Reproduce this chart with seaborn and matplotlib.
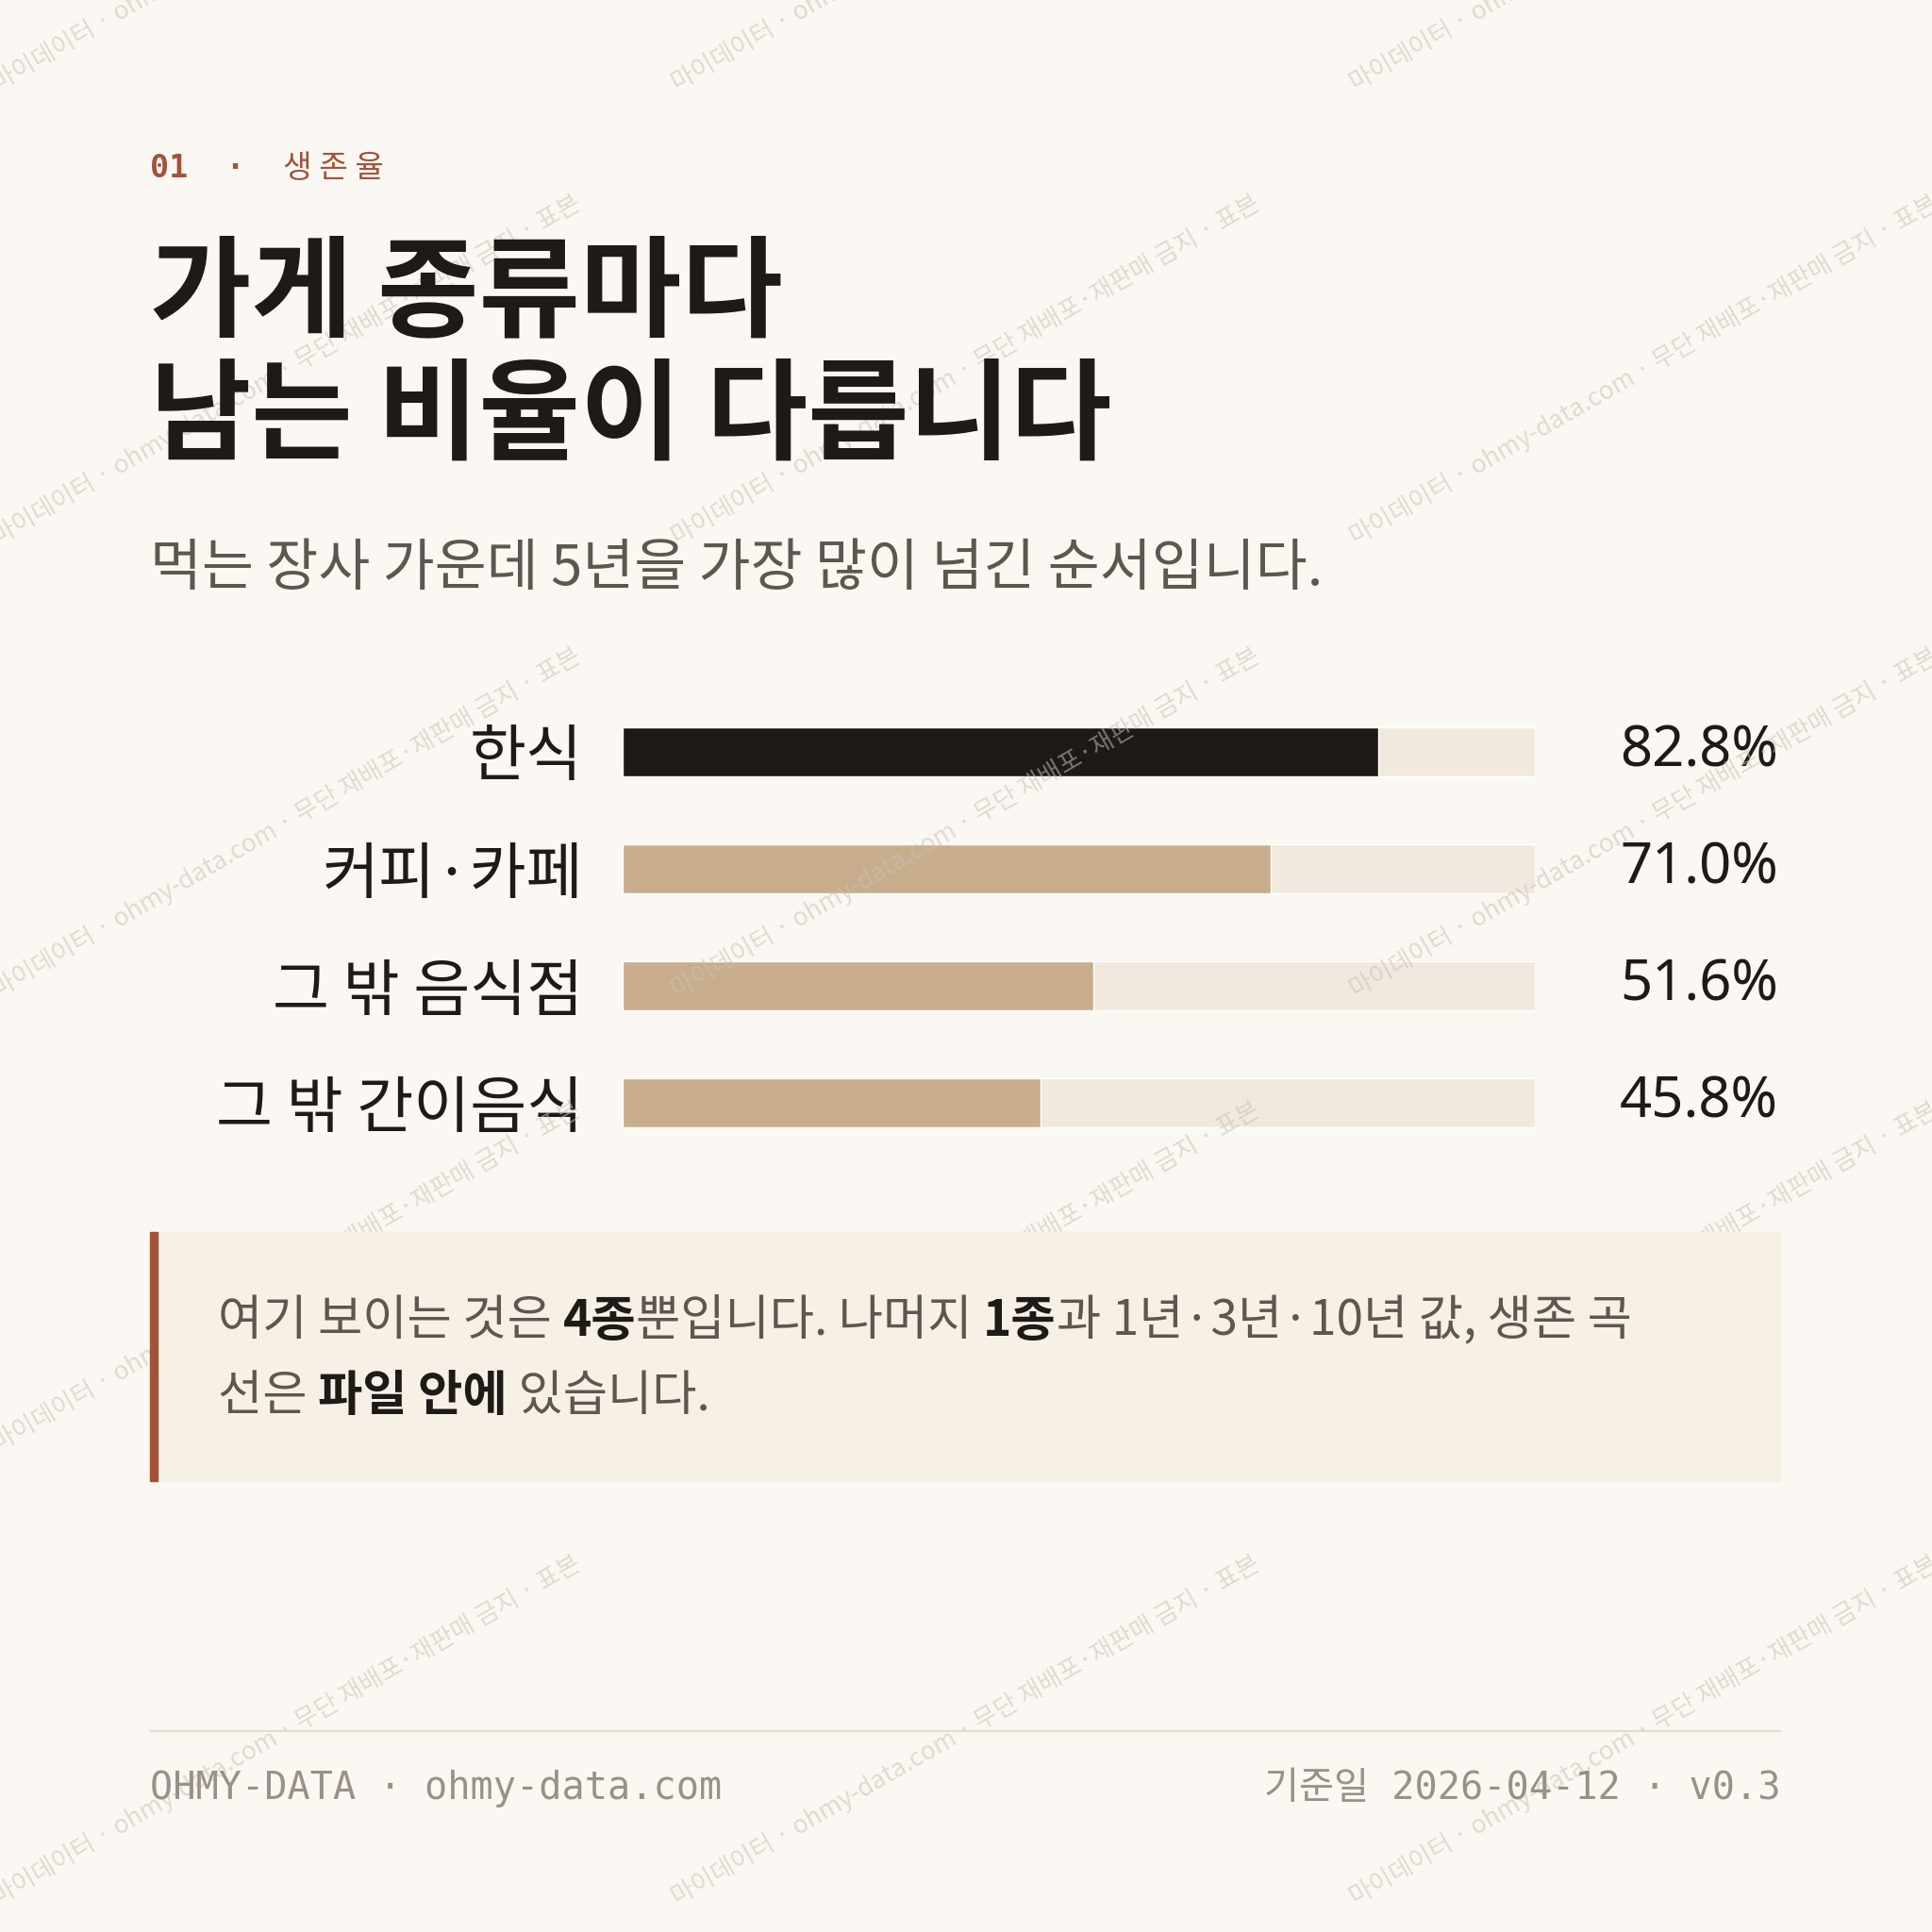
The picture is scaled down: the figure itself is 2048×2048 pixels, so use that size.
import matplotlib
matplotlib.use("Agg")
import matplotlib.pyplot as plt
import matplotlib.transforms as mtrans
from matplotlib.patches import Rectangle
import seaborn as sns
import pandas as pd

categories = ["한식", "커피·카페", "그 밖 음식점", "그 밖 간이음식"]
values = [82.8, 71.0, 51.6, 45.8]
value_labels = ["82.8%", "71.0%", "51.6%", "45.8%"]
track_max = 100

sns.set_theme(style="white")
KR = ["Noto Sans CJK KR", "DejaVu Sans"]
MONO = ["DejaVu Sans Mono", "Noto Sans CJK KR"]
plt.rcParams["font.family"] = KR

BG = "#FBF8F3"; TRACK = "#F1E9DD"; DARK = "#1E1916"; TAN = "#C8AD8C"
RUST = "#A4523A"; GRAY = "#5E5750"; FOOT = "#9A9186"

fig = plt.figure(figsize=(20.48, 20.48), dpi=100, facecolor=BG)
S = 1568.0
def fx(x): return x / S
def fy(y): return 1 - y / S

# watermark
wm = "마이데이터 · ohmy-data.com · 무단 재배포·재판매 금지 · 표본"
for r in range(-2, 7):
    for c in range(-1, 4):
        x0 = -10 + c * 551
        y0 = 300 + r * 368
        fig.text(fx(x0), fy(y0), wm, rotation=30, fontsize=19, color="#C9C2B8",
                 alpha=0.55, ha="left", va="center", family=KR, zorder=0)

# header
fig.text(fx(122), fy(137), "01  ·  ", fontsize=24, color=RUST, weight="bold",
         family=MONO, va="center")
fig.text(fx(230), fy(137), "생 존 율", fontsize=24, color=RUST, family=KR, va="center")
fig.text(fx(122), fy(240), "가게 종류마다", fontsize=84, weight="bold", color="#1E1A17", va="center")
fig.text(fx(122), fy(340), "남는 비율이 다릅니다", fontsize=84, weight="bold", color="#1E1A17", va="center")
fig.text(fx(122), fy(462), "먹는 장사 가운데 5년을 가장 많이 넘긴 순서입니다.", fontsize=43,
         color=GRAY, va="center")

# bars
ax = fig.add_axes([fx(505), 1 - 942.5 / S, (1246 - 505) / S, 380 / S])
ax.set_facecolor("none")
df = pd.DataFrame({"cat": categories, "val": values, "track": [track_max] * 4})
sns.barplot(data=df, y="cat", x="track", color=TRACK, width=0.42, ax=ax, orient="h",
            saturation=1)
pal = [DARK] + [TAN] * 3
sns.barplot(data=df, y="cat", x="val", hue="cat", palette=pal, width=0.42, ax=ax,
            orient="h", legend=False, saturation=1)
ax.set_xlim(0, 100)
ax.set_ylim(3.5, -0.5)
ax.set_xlabel(""); ax.set_ylabel("")
ax.set_xticks([])
ax.tick_params(axis="y", length=0, pad=30, labelsize=47, labelcolor="#1E1A17")
for s in ax.spines.values():
    s.set_visible(False)
tr = mtrans.blended_transform_factory(fig.transFigure, ax.transData)
for i, lab in enumerate(value_labels):
    ax.text(fx(1443), i, lab, transform=tr, ha="right", va="center", fontsize=43,
            weight="bold", color="#1E1A17", family=["Noto Sans", "DejaVu Sans"])

# callout
fig.patches.append(Rectangle((fx(122), fy(1202)), (1445 - 122) / S, 202 / S,
                             transform=fig.transFigure, color="#F6F0E6", zorder=1))
fig.patches.append(Rectangle((fx(122), fy(1202)), 6 / S, 202 / S,
                             transform=fig.transFigure, color=RUST, zorder=2))

fig.canvas.draw()
renderer = fig.canvas.get_renderer()
def rich(x, y, parts, size):
    cur = fx(x)
    for txt, bold in parts:
        t = fig.text(cur, fy(y), txt, fontsize=size, va="center",
                     weight="bold" if bold else "normal",
                     color="#1E1A17" if bold else GRAY, zorder=3)
        bb = t.get_window_extent(renderer=renderer)
        cur += bb.width / fig.bbox.width
rich(177, 1072, [("여기 보이는 것은 ", False), ("4종", True), ("뿐입니다. 나머지 ", False),
                 ("1종", True), ("과 1년·3년·10년 값, 생존 곡", False)], 37)
rich(177, 1133, [("선은 ", False), ("파일 안에", True), (" 있습니다.", False)], 37)

# footer
fig.lines.append(plt.Line2D([fx(122), fx(1445)], [fy(1405), fy(1405)],
                            transform=fig.transFigure, color="#E2DBD0", lw=1.5))
fig.text(fx(122), fy(1452), "OHMY-DATA · ohmy-data.com", fontsize=29, color=FOOT,
         family=MONO, va="center")
fig.text(fx(1445), fy(1452), "기준일 2026-04-12 · v0.3", fontsize=29, color=FOOT,
         family=MONO, va="center", ha="right")

fig.savefig("out.png", dpi=100, facecolor=BG)
